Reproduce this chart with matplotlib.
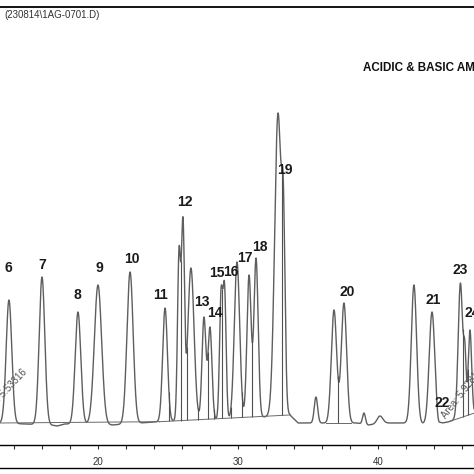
import numpy as np
import matplotlib
matplotlib.use('Agg')
import matplotlib.pyplot as plt
from matplotlib.lines import Line2D

plt.rcParams['font.family'] = ['Liberation Sans', 'DejaVu Sans']

# peaks: retention time (min), apex height (mAU), width (min)
peak_rt = [13.64, 16.0, 18.57, 20.0, 22.29, 24.79, 25.79, 26.07, 26.64, 27.57, 28.0,
           28.79, 29.04, 29.93, 30.79, 31.29, 32.86, 33.25, 35.57, 36.86, 37.57,
           39.0, 40.14, 42.57, 43.86, 44.29, 45.89, 46.21, 46.57]
peak_top = [122, 145, 110, 137, 150, 114, 175, 205, 154, 105, 95,
            134, 139, 160, 147, 164, 309, 235, 25, 112, 119,
            9, 6, 137, 110, 5, 139, 80, 92]
peak_sigma = [0.2, 0.2, 0.2, 0.26, 0.22, 0.17, 0.11, 0.11, 0.22, 0.14, 0.14,
              0.11, 0.11, 0.19, 0.15, 0.15, 0.24, 0.12, 0.12, 0.19, 0.19,
              0.1, 0.2, 0.19, 0.2, 0.08, 0.16, 0.09, 0.12]

# drifting baseline
base_rt = [13.0, 16.6, 17.1, 17.6, 19.5, 21.0, 24.0, 26.0, 30.0, 33.7, 34.3,
           38.5, 39.3, 40.5, 42.0, 43.5, 44.6, 45.0, 46.9]
base_mau = [-1, -3, -4, -2, -2, -3, 0, 1.5, 3, 7, -1, -1, -3, -1, -1, -2, -1, 0, 9]

# integration events
seg_rt = [(13.0, 24.4), (24.4, 33.7), (36.3, 38.1), (45.1, 46.9)]
drop_rt = [25.07, 25.93, 26.36, 27.14, 27.86, 28.29, 28.89, 29.5, 30.29, 31.0,
           33.14, 37.14, 46.07, 46.43]

label_text = ['6', '7', '8', '9', '10', '11', '12', '13', '14', '15', '16', '17',
              '18', '19', '20', '21', '22', '23', '24']
label_rt = [13.57, 16.0, 18.5, 20.07, 22.43, 24.5, 26.21, 27.45, 28.32, 28.5, 29.5,
            30.5, 31.57, 33.36, 37.79, 43.93, 44.57, 45.86, 46.75]
label_mau = [154, 157, 127, 154, 163, 127, 220, 120, 109, 149, 150, 164, 175, 252,
             130, 122, 19, 152, 109]

rt = np.array(peak_rt)
sig = np.array(peak_sigma)
# amplitudes so that the summed trace passes through the read apex heights
G = np.exp(-0.5 * ((rt[:, None] - rt[None, :]) / sig[None, :]) ** 2)
amp = np.linalg.solve(G, np.array(peak_top) - np.interp(rt, base_rt, base_mau))


def signal(t):
    t = np.asarray(t, dtype=float)
    return np.interp(t, base_rt, base_mau) + (
        amp * np.exp(-0.5 * ((t[..., None] - rt) / sig) ** 2)).sum(axis=-1)


fig = plt.figure(figsize=(4.74, 4.74), dpi=100)
ax = fig.add_axes([0, 0.0612, 1, 0.924])

t = np.linspace(12.5, 47.5, 5000)
ax.plot(t, signal(t), color='#5e5e5e', lw=1.0)

# integration baselines and drop lines
floor_x, floor_y = [], []
for x0, x1 in seg_rt:
    y0, y1 = np.interp([x0, x1], base_rt, base_mau)
    ax.plot([x0, x1], [y0, y1], color='#6a6a6a', lw=0.7)
    floor_x += [x0, x1]
    floor_y += [y0, y1]
d = np.array(drop_rt)
ax.vlines(d, np.interp(d, floor_x, floor_y), signal(d), color='#505050', lw=0.8)

for s, x, y in zip(label_text, label_rt, label_mau):
    ax.text(x, y, s, ha='center', va='center', fontsize=10, fontweight='bold',
            color='#1a1a1a', clip_on=True)

ax.text(15.1, 48, 'Area: 5.53316', rotation=47, rotation_mode='anchor', ha='right',
        va='bottom', fontsize=7, color='#555555', clip_on=True)
ax.text(44.95, 2, 'Area: 5.92815', rotation=52, rotation_mode='anchor', ha='left',
        va='bottom', fontsize=7, color='#555555', clip_on=True)

ax.text(38.93, 351, 'ACIDIC & BASIC AMINO ACIDS', fontsize=8.4, fontweight='bold',
        color='#111111', va='baseline', ha='left', clip_on=True)
fig.text(4 / 474, 1 - 15 / 474, '(230814\\1AG-0701.D)', fontsize=7, color='#333333',
         va='center', ha='left')

ax.set_xlim(13.0, 46.86)
ax.set_ylim(-23, 415)
ax.set_xticks([20, 30, 40])
ax.set_xticks(np.arange(14, 47, 2), minor=True)
ax.set_yticks([])
ax.tick_params(axis='x', which='both', direction='out', length=3, width=0.8,
               colors='#333333', labelsize=7, pad=6)
for side in ['left', 'right']:
    ax.spines[side].set_visible(False)
ax.spines['top'].set_linewidth(1.3)
ax.spines['bottom'].set_linewidth(1.0)
fig.add_artist(Line2D([0, 1], [1 - 468 / 474] * 2, color='black', lw=1.0))

fig.savefig('out.png', dpi=100)
